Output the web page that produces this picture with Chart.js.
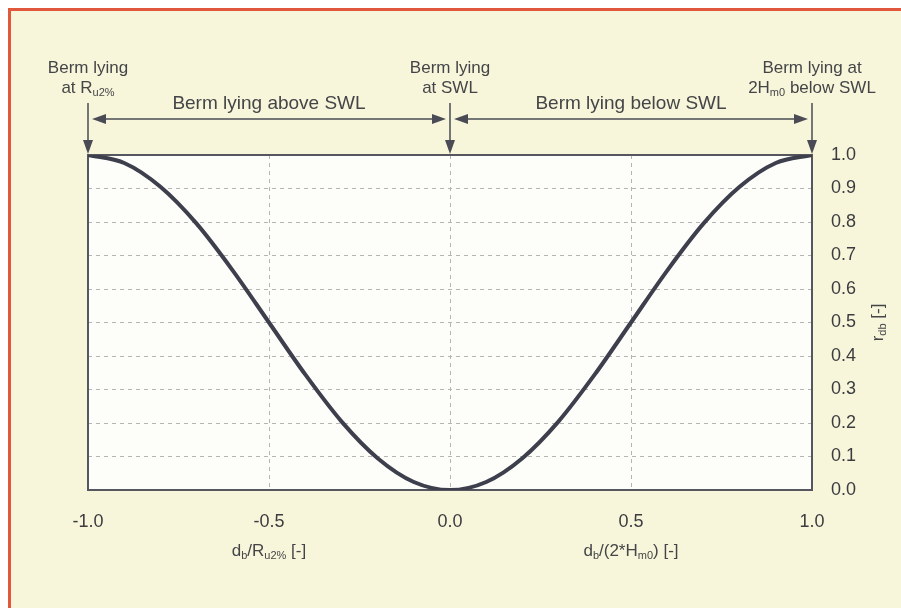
<!DOCTYPE html>
<html>
<head>
<meta charset="utf-8">
<script src="https://cdn.jsdelivr.net/npm/chart.js@4.4.1/dist/chart.umd.min.js"></script>
<style>
  html, body { margin: 0; padding: 0; background: #ffffff; }
  #frame {
    position: absolute; left: 8px; top: 8px; width: 893px; height: 600px;
    box-sizing: border-box;
    border-top: 3px solid #e1583d; border-left: 3px solid #e1583d;
    background: #f7f6db;
  }
  #wrap { position: absolute; left: 0; top: 0; width: 901px; height: 608px; }
</style>
</head>
<body>
<div id="frame"></div>
<div id="wrap"><canvas id="myChart" width="901" height="608"></canvas></div>
<script>
// relative berm depth (left half d_b/R_u2%, right half d_b/(2*H_m0))
var xVals = [-1.0, -0.9, -0.8, -0.7, -0.6, -0.5, -0.4, -0.3, -0.2, -0.1, 0.0,
              0.1, 0.2, 0.3, 0.4, 0.5, 0.6, 0.7, 0.8, 0.9, 1.0];
// reduction factor r_db
var rdbVals = [1.0, 0.976, 0.905, 0.795, 0.655, 0.5, 0.345, 0.205, 0.095, 0.024, 0.0,
               0.024, 0.095, 0.205, 0.345, 0.5, 0.655, 0.795, 0.905, 0.976, 1.0];
var xTicks = [-1.0, -0.5, 0.0, 0.5, 1.0];
var yTicks = [0.0, 0.1, 0.2, 0.3, 0.4, 0.5, 0.6, 0.7, 0.8, 0.9, 1.0];

var FONT = '"Liberation Sans", Arial, sans-serif';
var TXT = '#454548';
var INK = '#4a4b55';

// text with subscript parts: [[text, isSub], ...]
function richWidth(ctx, parts, size) {
  var w = 0;
  parts.forEach(function(p){
    ctx.font = (p[1] ? Math.round(size*0.62) : size) + 'px ' + FONT;
    w += ctx.measureText(p[0]).width;
  });
  return w;
}
function drawRich(ctx, parts, cx, cy, size) {
  var x = cx - richWidth(ctx, parts, size) / 2;
  ctx.textBaseline = 'middle';
  ctx.textAlign = 'left';
  parts.forEach(function(p){
    var s = p[1] ? Math.round(size*0.62) : size;
    ctx.font = s + 'px ' + FONT;
    ctx.fillText(p[0], x, p[1] ? cy + size*0.32 : cy);
    x += ctx.measureText(p[0]).width;
  });
}
function arrowHead(ctx, x, y, dir) {
  // dir: 'down','left','right'
  ctx.beginPath();
  if (dir === 'down') { ctx.moveTo(x, y); ctx.lineTo(x-5, y-14); ctx.lineTo(x+5, y-14); }
  if (dir === 'left') { ctx.moveTo(x, y); ctx.lineTo(x+14, y-5); ctx.lineTo(x+14, y+5); }
  if (dir === 'right') { ctx.moveTo(x, y); ctx.lineTo(x-14, y-5); ctx.lineTo(x-14, y+5); }
  ctx.closePath();
  ctx.fill();
}

var bermPlugin = {
  id: 'berm',
  beforeDraw: function(chart) {
    var ctx = chart.ctx, a = chart.chartArea;
    ctx.save();
    ctx.fillStyle = '#fdfdf9';
    ctx.fillRect(a.left, a.top, a.right - a.left, a.bottom - a.top);
    ctx.restore();
  },
  beforeDatasetsDraw: function(chart) {
    var ctx = chart.ctx, a = chart.chartArea;
    ctx.save();
    ctx.strokeStyle = '#55565e';
    ctx.lineWidth = 2;
    ctx.strokeRect(a.left, a.top, a.right - a.left, a.bottom - a.top);
    ctx.restore();
  },
  afterDraw: function(chart) {
    var ctx = chart.ctx, a = chart.chartArea;
    var xs = chart.scales.x;
    var xL = xs.getPixelForValue(-1), xM = xs.getPixelForValue(0), xR = xs.getPixelForValue(1);
    ctx.save();
    ctx.fillStyle = TXT;

    // labels above the plot
    drawRich(ctx, [['Berm lying', false]], xL, 68, 17);
    drawRich(ctx, [['at R', false], ['u2%', true]], xL, 88, 17);
    drawRich(ctx, [['Berm lying', false]], xM, 68, 17);
    drawRich(ctx, [['at SWL', false]], xM, 88, 17);
    drawRich(ctx, [['Berm lying at', false]], xR, 68, 17);
    drawRich(ctx, [['2H', false], ['m0', true], [' below SWL', false]], xR, 88, 17);
    drawRich(ctx, [['Berm lying above SWL', false]], (xL + xM) / 2, 104, 19);
    drawRich(ctx, [['Berm lying below SWL', false]], (xM + xR) / 2, 104, 19);

    // arrows
    ctx.strokeStyle = INK;
    ctx.fillStyle = INK;
    ctx.lineWidth = 1.5;
    [xL, xM, xR].forEach(function(x){
      ctx.beginPath(); ctx.moveTo(x, 103); ctx.lineTo(x, a.top - 8); ctx.stroke();
      arrowHead(ctx, x, a.top - 1, 'down');
    });
    var ay = 119;
    ctx.beginPath(); ctx.moveTo(xL + 10, ay); ctx.lineTo(xM - 10, ay); ctx.stroke();
    arrowHead(ctx, xL + 4, ay, 'left'); arrowHead(ctx, xM - 4, ay, 'right');
    ctx.beginPath(); ctx.moveTo(xM + 10, ay); ctx.lineTo(xR - 10, ay); ctx.stroke();
    arrowHead(ctx, xM + 4, ay, 'left'); arrowHead(ctx, xR - 4, ay, 'right');

    // x axis titles
    ctx.fillStyle = TXT;
    drawRich(ctx, [['d', false], ['b', true], ['/R', false], ['u2%', true], [' [-]', false]],
             xs.getPixelForValue(-0.5), 551, 17);
    drawRich(ctx, [['d', false], ['b', true], ['/(2*H', false], ['m0', true], [') [-]', false]],
             xs.getPixelForValue(0.5), 551, 17);

    // y axis title, reading bottom to top
    ctx.translate(878, (a.top + a.bottom) / 2);
    ctx.rotate(-Math.PI / 2);
    drawRich(ctx, [['r', false], ['db', true], [' [-]', false]], 0, 0, 17);
    ctx.restore();
  }
};

var ctx = document.getElementById('myChart').getContext('2d');
var myChart = new Chart(ctx, {
  type: 'scatter',
  data: {
    datasets: [{
      label: 'r_db',
      data: xVals.map(function(x, i){ return { x: x, y: rdbVals[i] }; }),
      showLine: true,
      borderColor: '#3d3f4c',
      borderWidth: 4,
      pointRadius: 0,
      cubicInterpolationMode: 'monotone',
      fill: false
    }]
  },
  options: {
    responsive: false,
    animation: false,
    layout: { padding: { left: 88, top: 155, right: 0, bottom: 0 } },
    plugins: { legend: { display: false }, tooltip: { enabled: false } },
    scales: {
      x: {
        type: 'linear', min: -1, max: 1,
        afterBuildTicks: function(s){ s.ticks = xTicks.map(function(v){ return { value: v }; }); },
        afterFit: function(s){ s.height = 118; },
        grid: { color: '#b5b5b5', lineWidth: 1, drawTicks: false },
        border: { display: false, dash: [4, 4] },
        ticks: {
          padding: 21, color: '#3c3c40', font: { family: FONT, size: 18 },
          maxRotation: 0,
          callback: function(v){ return v.toFixed(1); }
        }
      },
      y: {
        type: 'linear', position: 'right', min: 0, max: 1,
        afterBuildTicks: function(s){ s.ticks = yTicks.map(function(v){ return { value: v }; }); },
        afterFit: function(s){ s.width = 89; },
        grid: { color: '#b5b5b5', lineWidth: 1, drawTicks: false },
        border: { display: false, dash: [4, 4] },
        ticks: {
          padding: 19, color: '#3c3c40', font: { family: FONT, size: 18 },
          callback: function(v){ return v.toFixed(1); }
        }
      }
    }
  },
  plugins: [bermPlugin]
});
</script>
</body>
</html>
